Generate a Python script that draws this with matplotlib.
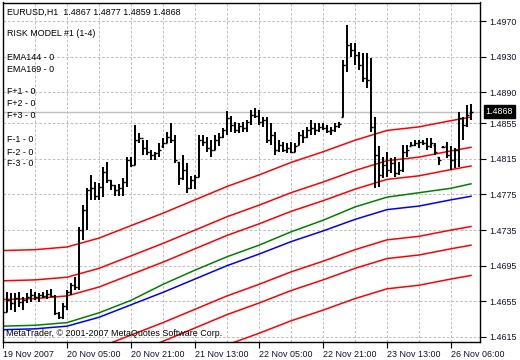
import numpy as np
import matplotlib
matplotlib.use("Agg")
import matplotlib.pyplot as plt

# hourly bars, 19 Nov 13:00 .. 26 Nov 10:00 (EURUSD H1)
opens = [1.4634, 1.4643, 1.4656, 1.4653, 1.4659, 1.4654, 1.4656, 1.4660, 1.4662, 1.4660,
         1.4662, 1.4661, 1.4663, 1.4661, 1.4642, 1.4637, 1.4650, 1.4665, 1.4673, 1.4671,
         1.4735, 1.4758, 1.4780, 1.4782, 1.4773, 1.4783, 1.4800, 1.4791, 1.4786, 1.4780,
         1.4782, 1.4789, 1.4814, 1.4808, 1.4836, 1.4838, 1.4827, 1.4823, 1.4819, 1.4822,
         1.4829, 1.4833, 1.4840, 1.4836, 1.4811, 1.4794, 1.4803, 1.4782, 1.4791, 1.4795,
         1.4836, 1.4834, 1.4827, 1.4825, 1.4836, 1.4840, 1.4847, 1.4861, 1.4853, 1.4847,
         1.4852, 1.4850, 1.4857, 1.4864, 1.4863, 1.4857, 1.4859, 1.4836, 1.4842, 1.4825,
         1.4831, 1.4825, 1.4827, 1.4823, 1.4831, 1.4842, 1.4840, 1.4847, 1.4850, 1.4847,
         1.4851, 1.4850, 1.4846, 1.4847, 1.4852, 1.4862, 1.4921, 1.4943, 1.4937, 1.4932,
         1.4921, 1.4906, 1.4904, 1.4851, 1.4819, 1.4797, 1.4808, 1.4803, 1.4810, 1.4799,
         1.4803, 1.4823, 1.4830, 1.4831, 1.4833, 1.4834, 1.4833, 1.4829, 1.4831, 1.4817,
         1.4828, 1.4829, 1.4819, 1.4814, 1.4825, 1.4861, 1.4853, 1.4867]
highs = [1.4645, 1.4665, 1.4664, 1.4664, 1.4665, 1.4660, 1.4664, 1.4669, 1.4665, 1.4664,
         1.4665, 1.4668, 1.4669, 1.4662, 1.4643, 1.4653, 1.4668, 1.4675, 1.4682, 1.4738,
         1.4763, 1.4782, 1.4797, 1.4789, 1.4788, 1.4806, 1.4811, 1.4791, 1.4786, 1.4787,
         1.4794, 1.4817, 1.4817, 1.4853, 1.4844, 1.4836, 1.4836, 1.4825, 1.4823, 1.4833,
         1.4838, 1.4845, 1.4855, 1.4842, 1.4811, 1.4819, 1.4810, 1.4796, 1.4797, 1.4842,
         1.4842, 1.4840, 1.4836, 1.4842, 1.4844, 1.4850, 1.4869, 1.4863, 1.4857, 1.4855,
         1.4857, 1.4859, 1.4870, 1.4872, 1.4870, 1.4862, 1.4862, 1.4855, 1.4845, 1.4836,
         1.4834, 1.4833, 1.4834, 1.4833, 1.4845, 1.4847, 1.4851, 1.4859, 1.4855, 1.4855,
         1.4855, 1.4853, 1.4851, 1.4855, 1.4857, 1.4926, 1.4965, 1.4945, 1.4945, 1.4935,
         1.4934, 1.4934, 1.4928, 1.4862, 1.4829, 1.4817, 1.4823, 1.4816, 1.4817, 1.4811,
         1.4831, 1.4831, 1.4834, 1.4836, 1.4836, 1.4836, 1.4838, 1.4838, 1.4833, 1.4817,
         1.4830, 1.4834, 1.4829, 1.4827, 1.4868, 1.4862, 1.4876, 1.4877]
lows = [1.4626, 1.4643, 1.4645, 1.4643, 1.4649, 1.4645, 1.4653, 1.4654, 1.4656, 1.4654,
        1.4659, 1.4658, 1.4660, 1.4640, 1.4635, 1.4635, 1.4645, 1.4662, 1.4668, 1.4668,
        1.4724, 1.4735, 1.4769, 1.4769, 1.4769, 1.4772, 1.4788, 1.4780, 1.4773, 1.4773,
        1.4773, 1.4783, 1.4806, 1.4808, 1.4833, 1.4819, 1.4819, 1.4814, 1.4814, 1.4817,
        1.4827, 1.4833, 1.4833, 1.4810, 1.4786, 1.4791, 1.4777, 1.4781, 1.4781, 1.4795,
        1.4829, 1.4823, 1.4817, 1.4825, 1.4829, 1.4838, 1.4842, 1.4845, 1.4844, 1.4844,
        1.4845, 1.4845, 1.4853, 1.4861, 1.4853, 1.4851, 1.4833, 1.4831, 1.4819, 1.4823,
        1.4823, 1.4822, 1.4822, 1.4823, 1.4831, 1.4833, 1.4838, 1.4842, 1.4842, 1.4845,
        1.4847, 1.4844, 1.4842, 1.4845, 1.4850, 1.4862, 1.4913, 1.4930, 1.4921, 1.4915,
        1.4901, 1.4895, 1.4845, 1.4782, 1.4783, 1.4794, 1.4795, 1.4799, 1.4795, 1.4797,
        1.4800, 1.4817, 1.4829, 1.4829, 1.4827, 1.4831, 1.4825, 1.4827, 1.4819, 1.4808,
        1.4827, 1.4816, 1.4803, 1.4805, 1.4806, 1.4836, 1.4851, 1.4859]
closes = [1.4643, 1.4656, 1.4653, 1.4659, 1.4654, 1.4656, 1.4660, 1.4662, 1.4660, 1.4662,
          1.4661, 1.4663, 1.4661, 1.4642, 1.4637, 1.4650, 1.4665, 1.4673, 1.4671, 1.4735,
          1.4758, 1.4780, 1.4782, 1.4773, 1.4783, 1.4800, 1.4791, 1.4786, 1.4780, 1.4782,
          1.4789, 1.4814, 1.4808, 1.4836, 1.4838, 1.4827, 1.4823, 1.4819, 1.4822, 1.4825,
          1.4833, 1.4840, 1.4836, 1.4814, 1.4794, 1.4803, 1.4782, 1.4791, 1.4795, 1.4836,
          1.4834, 1.4827, 1.4825, 1.4836, 1.4840, 1.4847, 1.4861, 1.4853, 1.4847, 1.4852,
          1.4850, 1.4857, 1.4864, 1.4863, 1.4857, 1.4859, 1.4836, 1.4842, 1.4825, 1.4831,
          1.4825, 1.4827, 1.4823, 1.4830, 1.4842, 1.4840, 1.4847, 1.4850, 1.4847, 1.4851,
          1.4850, 1.4846, 1.4847, 1.4852, 1.4854, 1.4921, 1.4943, 1.4937, 1.4932, 1.4921,
          1.4906, 1.4904, 1.4851, 1.4819, 1.4797, 1.4808, 1.4803, 1.4810, 1.4799, 1.4803,
          1.4823, 1.4825, 1.4831, 1.4833, 1.4834, 1.4833, 1.4829, 1.4833, 1.4823, 1.4814,
          1.4828, 1.4819, 1.4814, 1.4825, 1.4861, 1.4853, 1.4864, 1.4868]

# indicator lines, sampled every 8 bars
line_idx = [0, 8, 16, 24, 32, 40, 48, 56, 64, 72, 80, 88, 96, 104, 112, 117]
ema144 = [1.4627, 1.4628, 1.4631, 1.4642, 1.4656, 1.4674, 1.4690, 1.4705,
          1.4718, 1.4733, 1.4746, 1.4761, 1.4772, 1.4777, 1.4782, 1.4787]
ema169 = [1.4623, 1.4624, 1.4627, 1.4637, 1.4651, 1.4665, 1.4680, 1.4695,
          1.4708, 1.4722, 1.4734, 1.4747, 1.4758, 1.4762, 1.4769, 1.4773]
f_p1 = [1.4657, 1.4658, 1.4661, 1.4671, 1.4685, 1.4699, 1.4714, 1.4729,
        1.4742, 1.4756, 1.4768, 1.4781, 1.4792, 1.4796, 1.4803, 1.4807]
f_p2 = [1.4678, 1.4679, 1.4682, 1.4692, 1.4706, 1.4720, 1.4735, 1.4750,
        1.4763, 1.4777, 1.4789, 1.4802, 1.4813, 1.4817, 1.4824, 1.4828]
f_p3 = [1.4712, 1.4713, 1.4716, 1.4726, 1.4740, 1.4754, 1.4769, 1.4784,
        1.4797, 1.4811, 1.4823, 1.4836, 1.4847, 1.4851, 1.4858, 1.4862]
f_m1 = [1.4589, 1.4590, 1.4593, 1.4603, 1.4617, 1.4631, 1.4646, 1.4661,
        1.4674, 1.4688, 1.4700, 1.4713, 1.4724, 1.4728, 1.4735, 1.4739]
f_m2 = [1.4568, 1.4569, 1.4572, 1.4582, 1.4596, 1.4610, 1.4625, 1.4640,
        1.4653, 1.4667, 1.4679, 1.4692, 1.4703, 1.4707, 1.4714, 1.4718]
f_m3 = [1.4534, 1.4535, 1.4538, 1.4548, 1.4562, 1.4576, 1.4591, 1.4606,
        1.4619, 1.4633, 1.4645, 1.4658, 1.4669, 1.4673, 1.4680, 1.4684]

yticks = [1.4615, 1.4655, 1.4695, 1.4735, 1.4775, 1.4815, 1.4855, 1.4890, 1.4930, 1.4970]
xtick_pos = [0, 16, 32, 48, 64, 80, 96, 112]
xtick_labels = ["19 Nov 2007", "20 Nov 05:00", "20 Nov 21:00", "21 Nov 13:00",
                "22 Nov 05:00", "22 Nov 21:00", "23 Nov 13:00", "26 Nov 06:00"]
last_price = 1.4868

W, H = 520, 360
plt.rcParams['font.family'] = ['Liberation Sans', 'DejaVu Sans']
fig = plt.figure(figsize=(W / 100, H / 100), dpi=100)
ax = fig.add_axes([2.5 / W, 1 - 342 / H, (480 - 2.5) / W, (342 - 2.5) / H])

# grid
grid_kw = dict(color='#c0c0c0', lw=0.75, dashes=(2.5, 1.8), zorder=0)
for g in range(8, 120, 8):
    ax.axvline(g, **grid_kw)
for t in yticks:
    ax.axhline(t, **grid_kw)

ax.axhline(last_price, color='#c0c0c0', lw=1.0, zorder=1)

# indicator lines
for band in [f_p3, f_p2, f_p1, f_m1, f_m2, f_m3]:
    ax.plot(line_idx, band, color='red', lw=1.1, zorder=2)
ax.plot(line_idx, ema144, color='green', lw=1.1, zorder=2)
ax.plot(line_idx, ema169, color='blue', lw=1.1, zorder=2)

# OHLC bars
idx = np.arange(len(closes))
ax.vlines(idx, lows, highs, color='black', lw=1.4, zorder=3)
ax.hlines(opens, idx - 0.45, idx, color='black', lw=1.0, zorder=3)
ax.hlines(closes, idx, idx + 0.45, color='black', lw=1.0, zorder=3)

ax.set_xlim(-0.12, 119.25)
ax.set_ylim(1.46092, 1.49908)

ax.yaxis.tick_right()
ax.set_yticks(yticks)
ax.set_yticklabels(["%.4f" % t for t in yticks])
ax.set_xticks(xtick_pos)
ax.set_xticklabels(xtick_labels, ha='left')
ax.tick_params(axis='both', length=4, width=0.8, color='black', labelsize=6.4,
               labelcolor='#101030')
ax.tick_params(axis='x', pad=2)
ax.tick_params(axis='y', pad=3)
for s in ax.spines.values():
    s.set_color('black')
    s.set_linewidth(1.0)

# current price box
ax.text(1.012, last_price, "%.4f" % last_price, transform=ax.get_yaxis_transform(),
        ha='left', va='center', fontsize=6.4, color='white',
        bbox=dict(boxstyle='square,pad=0.25', fc='black', ec='black'))

# labels in the chart window
txt_kw = dict(fontsize=6.4, color='black', va='center', ha='left')
fig.text(7 / W, 1 - 12 / H, "EURUSD,H1  1.4867 1.4877 1.4859 1.4868", **txt_kw)
fig.text(7 / W, 1 - 33 / H, "RISK MODEL #1 (1-4)", **txt_kw)
for name, yy in [("EMA144 - 0", 57), ("EMA169 - 0", 69),
                 ("F+1 - 0", 92), ("F+2 - 0", 104), ("F+3 - 0", 116),
                 ("F-1 - 0", 140), ("F-2 - 0", 152), ("F-3 - 0", 164)]:
    fig.text(7 / W, 1 - yy / H, name, **txt_kw)
fig.text(6 / W, 1 - 333 / H, "MetaTrader, \u00a9 2001-2007 MetaQuotes Software Corp.",
         **txt_kw)

fig.savefig("out.png", dpi=100, facecolor='white')
